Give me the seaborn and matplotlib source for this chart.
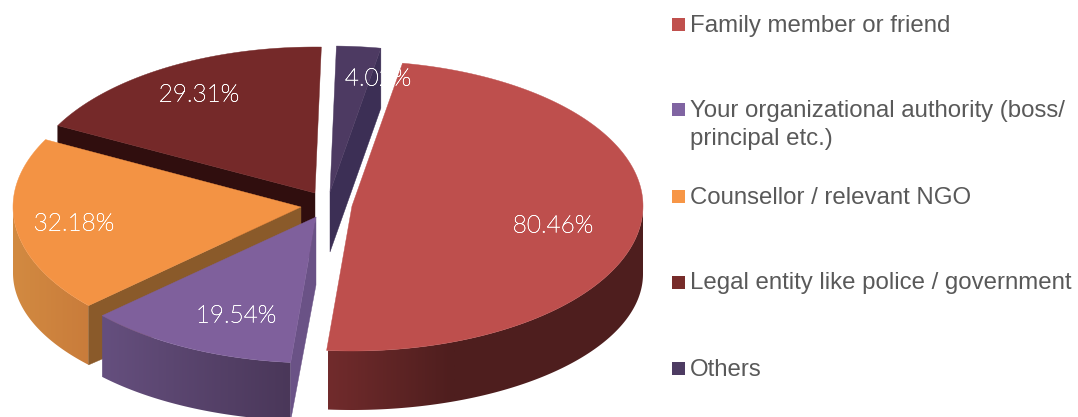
import numpy as np
import matplotlib
matplotlib.use("Agg")
import matplotlib.pyplot as plt
import matplotlib.patheffects as pe
from matplotlib.patches import Polygon
import seaborn as sns

categories = ["Family member or friend",
              "Your organizational authority (boss/\nprincipal etc.)",
              "Counsellor / relevant NGO",
              "Legal entity like police / government",
              "Others"]
shares = [80.46, 19.54, 32.18, 29.31, 4.02]
share_labels = ["80.46%", "19.54%", "32.18%", "29.31%", "4.02%"]

top_colors = ["#BE4F4D", "#7F609C", "#F39344", "#752929", "#4D3A62"]
wall_colors = ["#6F2A2B", "#6A5286", "#8A5A2A", "#300E0E", "#3C2F55"]
side_ramps = [("#712B2C", "#4E1E1E"), ("#654F7E", "#4A3759"),
              ("#D28A41", "#C97C3B"), ("#4E1E1E", "#4E1E1E"), ("#3C2F55", "#3C2F55")]
ramp_spans = [(328, 455), (102, 292), (13, 89), (57, 320), (330, 381)]
visible_walls = [(), ("start",), ("start",), ("start",), ("end",)]
legend_colors = ["#C0504D", "#8064A2", "#F79646", "#772C2A", "#4D3B62"]

# Per-slice geometry of the tilted, exploded disc: apex x, apex y, x radius,
# y radius, drop of the lower rim and y radius of the lower rim.
slice_geometry = [(352, 206, 291, 145, 68, 136),
                  (316, 217, 290, 146, 68, 136),
                  (301, 207, 288, 146, 66, 136),
                  (315, 193, 290, 146, 66, 136),
                  (330, 192, 293, 146, 60, 146)]
label_positions = [(553, 226), (236, 316), (74, 224), (199, 95), (378, 79)]
legend_rows = [24, 109.5, 196, 282, 368]
start_angle = 80.0

sns.set_theme(style="white")
plt.rcParams["font.family"] = ["Liberation Sans", "DejaVu Sans"]

fig, ax = plt.subplots(figsize=(10.78, 4.17), dpi=100)
fig.subplots_adjust(0, 0, 1, 1)
ax.axis("off")

sweeps = np.asarray(shares) / np.sum(shares) * 360.0
ends = start_angle - np.cumsum(sweeps)
starts = ends + sweeps


def upper(geo, t):
    cx, cy, rx, ry, _, _ = geo
    return cx + rx * np.cos(np.radians(t)), cy - ry * np.sin(np.radians(t))


def lower(geo, t):
    cx, cy, rx, _, drop, ry2 = geo
    return cx + rx * np.cos(np.radians(t)), cy + drop - ry2 * np.sin(np.radians(t))


def draw_rim(i, z):
    """Front-facing part of the outer rim: a horizontal ramp clipped to its outline."""
    geo = slice_geometry[i]
    t0, t1 = min(starts[i], 0.0), max(ends[i], -180.0)
    if t0 <= t1:
        return
    ts = np.linspace(t0, t1, 200)
    xu, yu = upper(geo, ts)
    xl, yl = lower(geo, ts)
    outline = np.c_[np.r_[xu, xl[::-1]], np.r_[yu, yl[::-1]]]
    x0, x1 = ramp_spans[i]
    strip = np.asarray(sns.blend_palette(side_ramps[i], 64))[None, :, :]
    pieces = [ax.imshow(strip, extent=(x0, x1, 430, 0), aspect="auto",
                        interpolation="bilinear", zorder=z),
              ax.imshow(strip[:, -1:, :], extent=(x1, 660, 430, 0), aspect="auto", zorder=z)]
    for piece in pieces:
        piece.set_clip_path(Polygon(outline, closed=True, transform=ax.transData))


def draw_slice(i, z):
    geo = slice_geometry[i]
    cx, cy, _, _, drop, _ = geo
    t0, t1 = starts[i], ends[i]

    draw_rim(i, z)

    # Cut faces that turn towards the viewer.
    for which in visible_walls[i]:
        t = t0 if which == "start" else t1
        xa, ya = upper(geo, t)
        xb, yb = lower(geo, t)
        ax.fill([cx, xa, xb, cx], [cy, ya, yb, cy + drop], color=wall_colors[i], lw=0.3, zorder=z + 0.1)

    # Upper face.
    xu, yu = upper(geo, np.linspace(t0, t1, 200))
    ax.fill(np.r_[cx, xu], np.r_[cy, yu], color=top_colors[i], lw=0.3, zorder=z + 0.2)


# Painted from the back of the disc towards the viewer.
for z, i in enumerate([3, 2, 1, 4, 0]):
    draw_slice(i, z + 1)

ax.set_xlim(0, 1078)
ax.set_ylim(417, 0)

for (x, y), text in zip(label_positions, share_labels):
    ax.text(x, y, text, color="white", ha="center", va="center", fontsize=17.5,
            family="Lato", fontweight="light", zorder=10,
            path_effects=[pe.withStroke(linewidth=0.35, foreground="white")])

for y, name, c in zip(legend_rows, categories, legend_colors):
    ax.fill([672, 685, 685, 672], [y - 6.5, y - 6.5, y + 6.5, y + 6.5], color=c, lw=0)
    for row, line in enumerate(name.split("\n")):
        ax.text(690, y + 7.5 + 27.5 * row, line, color="#595959", ha="left", va="baseline",
                fontsize=17.3)

fig.savefig("out.png", dpi=100, facecolor="white")
